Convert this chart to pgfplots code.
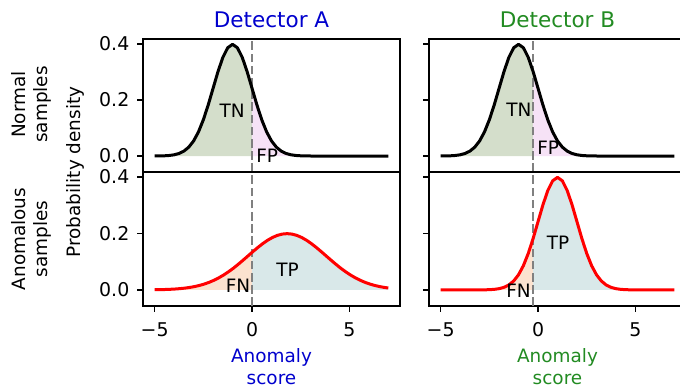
\documentclass[border=0pt]{standalone}
\usepackage{fontspec}
\setmainfont{DejaVu Sans}
\usepackage{pgfplots}
\usepackage{pgfplotstable}
\pgfplotsset{compat=1.18}

\definecolor{tncol}{RGB}{212,222,203}
\definecolor{fpcol}{RGB}{246,226,246}
\definecolor{fncol}{RGB}{251,226,207}
\definecolor{tpcol}{RGB}{217,232,233}
\definecolor{detA}{RGB}{0,0,205}
\definecolor{detB}{RGB}{34,139,34}

% Normal samples: density of the anomaly score (same for both detectors)
\pgfplotstableread{
x y
-5.00 0.000134
-4.75 0.000353
-4.50 0.000873
-4.25 0.002029
-4.00 0.004432
-3.75 0.009094
-3.50 0.017528
-3.25 0.031740
-3.00 0.053991
-2.75 0.086277
-2.50 0.129518
-2.25 0.182649
-2.00 0.241971
-1.75 0.301137
-1.50 0.352065
-1.25 0.386668
-1.00 0.398942
-0.75 0.386668
-0.50 0.352065
-0.25 0.301137
0.00 0.241971
0.25 0.182649
0.50 0.129518
0.75 0.086277
1.00 0.053991
1.25 0.031740
1.50 0.017528
1.75 0.009094
2.00 0.004432
2.25 0.002029
2.50 0.000873
2.75 0.000353
3.00 0.000134
3.25 0.000048
3.50 0.000016
4.00 0.000000
7.00 0.000000
}\normaldata

% Anomalous samples, detector A
\pgfplotstableread{
x y
-5.00 0.000616
-4.95 0.000671
-4.70 0.001015
-4.45 0.001511
-4.20 0.002216
-3.95 0.003199
-3.70 0.004547
-3.45 0.006362
-3.20 0.008764
-2.95 0.011886
-2.70 0.015870
-2.45 0.020861
-2.20 0.026995
-1.95 0.034393
-1.70 0.043139
-1.45 0.053269
-1.20 0.064759
-0.95 0.077334
-0.70 0.091325
-0.45 0.105939
-0.20 0.120985
0.00 0.133043
0.05 0.136027
0.30 0.150569
0.55 0.164080
0.80 0.176033
1.05 0.185928
1.30 0.193334
1.55 0.197919
1.80 0.199471
2.05 0.197919
2.30 0.193334
2.55 0.185928
2.80 0.176033
3.05 0.164080
3.30 0.150569
3.55 0.136027
3.80 0.120985
4.05 0.105939
4.30 0.091325
4.55 0.077334
4.80 0.064759
5.05 0.053269
5.30 0.043139
5.55 0.034393
5.80 0.026995
6.05 0.020861
6.30 0.015870
6.55 0.011886
6.80 0.008764
7.00 0.006792
}\anomA

% Anomalous samples, detector B
\pgfplotstableread{
x y
-5.00 0.000000
-3.50 0.000016
-3.25 0.000048
-3.00 0.000134
-2.75 0.000353
-2.50 0.000873
-2.25 0.002029
-2.00 0.004432
-1.75 0.009094
-1.50 0.017528
-1.25 0.031740
-1.00 0.053991
-0.75 0.086277
-0.50 0.129518
-0.25 0.182649
0.00 0.241971
0.25 0.301137
0.50 0.352065
0.75 0.386668
1.00 0.398942
1.25 0.386668
1.50 0.352065
1.75 0.301137
2.00 0.241971
2.25 0.182649
2.50 0.129518
2.75 0.086277
3.00 0.053991
3.25 0.031740
3.50 0.017528
3.75 0.009094
4.00 0.004432
4.25 0.002029
4.50 0.000873
4.75 0.000353
5.00 0.000134
5.25 0.000048
5.50 0.000016
6.00 0.000000
7.00 0.000000
}\anomB

\pgfplotsset{
  panel/.style={
    width=257bp, scale only axis, anchor=south west,
    xmin=-5.6, xmax=7.6, ymin=-0.057, ymax=0.418,
    axis line style={line width=1.2bp, black},
    every tick/.style={line width=1.2bp, black},
    major tick length=6bp,
    tick align=outside,
    xtick pos=bottom, ytick pos=left,
    ytick={0,0.2,0.4},
    tick label style={font=\fontsize{19}{22}\selectfont},
    yticklabel style={inner sep=0pt, xshift=-7.5bp},
    xticklabel style={inner sep=0pt, anchor=north, yshift=-10.5bp},
    /pgf/number format/assume math mode=true,
  },
}
\tikzset{
  thr/.style={gray, line width=2.2bp, dash pattern=on 8.5bp off 3.7bp},
  normcurve/.style={black, line width=3bp, line join=round},
  anomcurve/.style={red, line width=3bp, line join=round},
  ann/.style={font=\fontsize{18.5}{22}\selectfont, inner sep=0pt},
}

\begin{document}
\begin{tikzpicture}
% ---------- Detector A, normal ----------
\begin{axis}[panel, at={(143bp,217bp)}, height=133bp, xtick=\empty,
  yticklabels={0.0,0.2,0.4}]
\addplot[draw=none, fill=tncol, restrict x to domain=-5:0] table {\normaldata} \closedcycle;
\addplot[draw=none, fill=fpcol, restrict x to domain=0:7] table {\normaldata} \closedcycle;
\addplot[thr] coordinates {(0,-0.057) (0,0.418)};
\addplot[normcurve] table {\normaldata};
\node[ann] at (axis cs:-1.02,0.163) {TN};
\node[ann] at (axis cs:0.78,0.002) {FP};
\end{axis}
% ---------- Detector A, anomalous ----------
\begin{axis}[panel, at={(143bp,83bp)}, height=134bp,
  xtick={-5,0,5}, xticklabels={−5,0,5}, yticklabels={0.0,0.2,0.4}]
\addplot[draw=none, fill=fncol, restrict x to domain=-5:0] table {\anomA} \closedcycle;
\addplot[draw=none, fill=tpcol, restrict x to domain=0:7] table {\anomA} \closedcycle;
\addplot[thr] coordinates {(0,-0.057) (0,0.418)};
\addplot[anomcurve] table {\anomA};
\node[ann] at (axis cs:-0.72,0.014) {FN};
\node[ann] at (axis cs:1.83,0.070) {TP};
\end{axis}
% ---------- Detector B, normal ----------
\begin{axis}[panel, at={(429bp,217bp)}, height=133bp, xtick=\empty,
  yticklabels={{},{},{}}]
\addplot[draw=none, fill=tncol, restrict x to domain=-5:-0.25] table {\normaldata} \closedcycle;
\addplot[draw=none, fill=fpcol, restrict x to domain=-0.25:7] table {\normaldata} \closedcycle;
\addplot[thr] coordinates {(-0.25,-0.057) (-0.25,0.418)};
\addplot[normcurve] table {\normaldata};
\node[ann] at (axis cs:-0.98,0.164) {TN};
\node[ann] at (axis cs:0.52,0.030) {FP};
\end{axis}
% ---------- Detector B, anomalous ----------
\begin{axis}[panel, at={(429bp,83bp)}, height=134bp,
  xtick={-5,0,5}, xticklabels={−5,0,5}, yticklabels={{},{},{}}]
\addplot[draw=none, fill=fncol, restrict x to domain=-5:-0.25] table {\anomB} \closedcycle;
\addplot[draw=none, fill=tpcol, restrict x to domain=-0.25:7] table {\anomB} \closedcycle;
\addplot[thr] coordinates {(-0.25,-0.057) (-0.25,0.418)};
\addplot[anomcurve] table {\anomB};
\node[ann] at (axis cs:-1.0,-0.003) {FN};
\node[ann] at (axis cs:1.03,0.168) {TP};
\end{axis}
% ---------- titles and labels ----------
\begin{scope}[every node/.style={font=\fontsize{18.5}{22}\selectfont, inner sep=0pt}]
\node[anchor=base, font=\fontsize{21.6}{26}\selectfont, text=detA] at (271.5bp,361.7bp) {Detector A};
\node[anchor=base, font=\fontsize{21.6}{26}\selectfont, text=detB] at (557.5bp,361.7bp) {Detector B};
\node[anchor=base, text=detA] at (271.5bp,26.3bp) {Anomaly};
\node[anchor=base, text=detA] at (271.5bp,4.1bp) {score};
\node[anchor=base, text=detB] at (557.5bp,26.3bp) {Anomaly};
\node[anchor=base, text=detB] at (557.5bp,4.1bp) {score};
\node[anchor=base, rotate=90] at (25bp,284.5bp) {Normal};
\node[anchor=base, rotate=90] at (47bp,284.5bp) {samples};
\node[anchor=base, rotate=90] at (25bp,150bp) {Anomalous};
\node[anchor=base, rotate=90] at (47bp,150bp) {samples};
\node[anchor=base, rotate=90] at (80.5bp,217bp) {Probability density};
\end{scope}
\pgfresetboundingbox
\path (0bp,0bp) rectangle (680bp,389bp);
\end{tikzpicture}
\end{document}
